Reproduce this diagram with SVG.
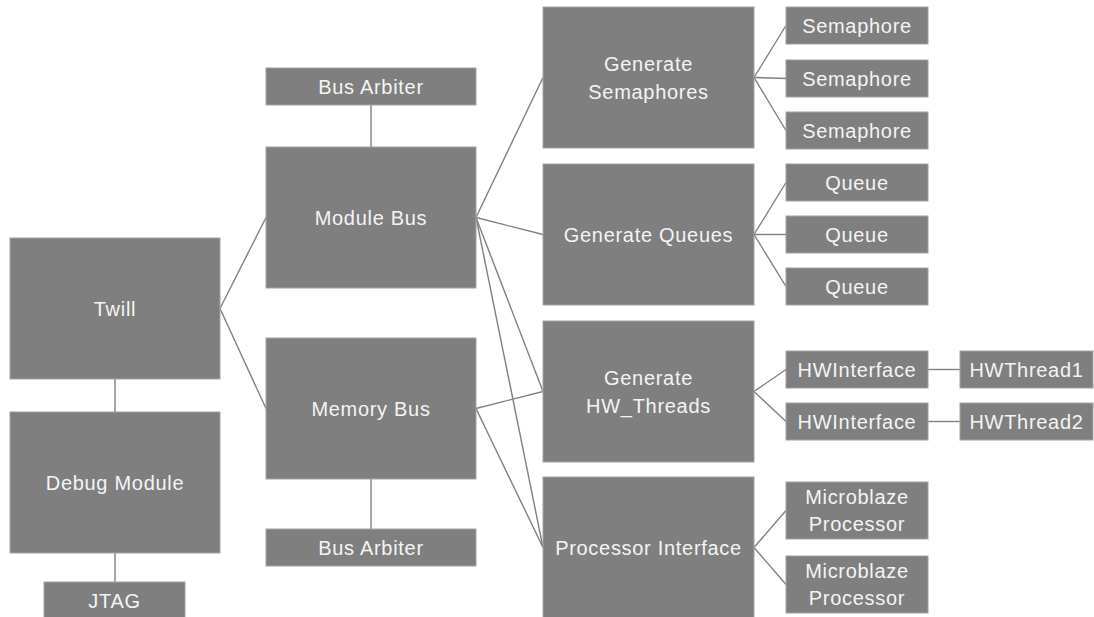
<svg xmlns="http://www.w3.org/2000/svg" width="1094" height="617" viewBox="0 0 1094 617">
<style>
.box{fill:#7f7f7f;stroke:#a3a3a3;stroke-width:1}
.lbl{font-family:"Liberation Sans",Arial,sans-serif;font-size:20px;fill:#f4f4f4;text-anchor:middle;letter-spacing:0.7px}
.con line{stroke:#808080;stroke-width:1.4;fill:none}
</style>
<rect width="1094" height="617" fill="#ffffff"/>
<g class="con" id="connectors">
<line x1="115" y1="379" x2="115" y2="412"/>
<line x1="115" y1="553" x2="115" y2="582"/>
<line x1="220" y1="308.5" x2="266" y2="217.5"/>
<line x1="220" y1="308.5" x2="266" y2="408.5"/>
<line x1="371" y1="105" x2="371" y2="147"/>
<line x1="371" y1="479" x2="371" y2="529"/>
<line x1="476" y1="217.5" x2="543" y2="77.5"/>
<line x1="476" y1="217.5" x2="543" y2="234.5"/>
<line x1="476" y1="217.5" x2="543" y2="391.5"/>
<line x1="476" y1="217.5" x2="543" y2="547.5"/>
<line x1="476" y1="408.5" x2="543" y2="391.5"/>
<line x1="476" y1="408.5" x2="543" y2="547.5"/>
<line x1="754" y1="77.5" x2="786" y2="25.5"/>
<line x1="754" y1="77.5" x2="786" y2="78.5"/>
<line x1="754" y1="77.5" x2="786" y2="130.5"/>
<line x1="754" y1="234.5" x2="786" y2="182.5"/>
<line x1="754" y1="234.5" x2="786" y2="234.5"/>
<line x1="754" y1="234.5" x2="786" y2="286.5"/>
<line x1="754" y1="391.5" x2="786" y2="369.5"/>
<line x1="754" y1="391.5" x2="786" y2="421.5"/>
<line x1="928" y1="369.5" x2="960" y2="369.5"/>
<line x1="928" y1="421.5" x2="960" y2="421.5"/>
<line x1="754" y1="547.5" x2="786" y2="510.5"/>
<line x1="754" y1="547.5" x2="786" y2="584.5"/>
</g>
<g id="twill"><rect class="box" x="10" y="238" width="210" height="141"/><text class="lbl" x="115" y="315.5">Twill</text></g>
<g id="debug"><rect class="box" x="10" y="412" width="210" height="141"/><text class="lbl" x="115" y="489.5">Debug Module</text></g>
<g id="jtag"><rect class="box" x="44" y="582" width="141" height="37"/><text class="lbl" x="114.5" y="607.5">JTAG</text></g>
<g id="busarb1"><rect class="box" x="266" y="68" width="210" height="37"/><text class="lbl" x="371" y="93.5">Bus Arbiter</text></g>
<g id="modbus"><rect class="box" x="266" y="147" width="210" height="141"/><text class="lbl" x="371" y="224.5">Module Bus</text></g>
<g id="membus"><rect class="box" x="266" y="338" width="210" height="141"/><text class="lbl" x="371" y="415.5">Memory Bus</text></g>
<g id="busarb2"><rect class="box" x="266" y="529" width="210" height="37"/><text class="lbl" x="371" y="554.5">Bus Arbiter</text></g>
<g id="gensem"><rect class="box" x="543" y="7" width="211" height="141"/><text class="lbl" x="648.5" y="70.5">Generate</text><text class="lbl" x="648.5" y="98.5">Semaphores</text></g>
<g id="genq"><rect class="box" x="543" y="164" width="211" height="141"/><text class="lbl" x="648.5" y="241.5">Generate Queues</text></g>
<g id="genhw"><rect class="box" x="543" y="321" width="211" height="141"/><text class="lbl" x="648.5" y="384.5">Generate</text><text class="lbl" x="648.5" y="412.5">HW_Threads</text></g>
<g id="procif"><rect class="box" x="543" y="477" width="211" height="141"/><text class="lbl" x="648.5" y="554.5">Processor Interface</text></g>
<g id="sem1"><rect class="box" x="786" y="7" width="142" height="37"/><text class="lbl" x="857" y="32.5">Semaphore</text></g>
<g id="sem2"><rect class="box" x="786" y="60" width="142" height="37"/><text class="lbl" x="857" y="85.5">Semaphore</text></g>
<g id="sem3"><rect class="box" x="786" y="112" width="142" height="37"/><text class="lbl" x="857" y="137.5">Semaphore</text></g>
<g id="q1"><rect class="box" x="786" y="164" width="142" height="37"/><text class="lbl" x="857" y="189.5">Queue</text></g>
<g id="q2"><rect class="box" x="786" y="216" width="142" height="37"/><text class="lbl" x="857" y="241.5">Queue</text></g>
<g id="q3"><rect class="box" x="786" y="268" width="142" height="37"/><text class="lbl" x="857" y="293.5">Queue</text></g>
<g id="hwi1"><rect class="box" x="786" y="351" width="142" height="37"/><text class="lbl" x="857" y="376.5">HWInterface</text></g>
<g id="hwi2"><rect class="box" x="786" y="403" width="142" height="37"/><text class="lbl" x="857" y="428.5">HWInterface</text></g>
<g id="hwt1"><rect class="box" x="960" y="351" width="133" height="37"/><text class="lbl" x="1026.5" y="376.5">HWThread1</text></g>
<g id="hwt2"><rect class="box" x="960" y="403" width="133" height="37"/><text class="lbl" x="1026.5" y="428.5">HWThread2</text></g>
<g id="mb1"><rect class="box" x="786" y="482" width="142" height="57"/><text class="lbl" x="857" y="503.5">Microblaze</text><text class="lbl" x="857" y="531">Processor</text></g>
<g id="mb2"><rect class="box" x="786" y="556" width="142" height="57"/><text class="lbl" x="857" y="577.5">Microblaze</text><text class="lbl" x="857" y="605">Processor</text></g>
</svg>
